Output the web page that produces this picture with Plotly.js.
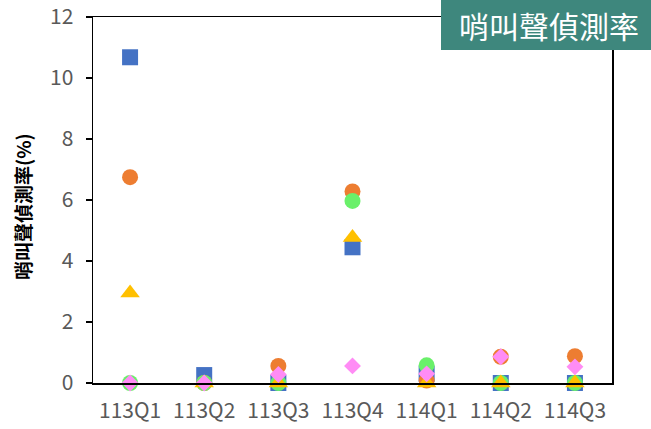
<!DOCTYPE html>
<html><head><meta charset="utf-8">
<script src="https://cdn.plot.ly/plotly-3.0.1.min.js"></script>
<style>body{margin:0;background:#fff}#c{width:651px;height:429px}</style>
</head><body><div id="c"></div>
<script>
const categories = ["113Q1","113Q2","113Q3","113Q4","114Q1","114Q2","114Q3"];
const seriesA = [10.68, 0.26, 0, 4.45, 0.3, 0, 0];     // blue square
const seriesB = [6.75, 0, 0.56, 6.28, 0.08, 0.86, 0.88]; // orange circle
const seriesD = [0, 0, 0, 5.97, 0.58, 0, 0];           // green circle
const seriesC = [2.95, 0, 0, 4.77, 0, 0, 0];           // yellow triangle
const seriesE = [0, 0, 0.28, 0.56, 0.3, 0.86, 0.53];   // pink diamond
const yTicks = [0,2,4,6,8,10,12];

const mk = (y, color, symbol, size) => ({
  x: categories, y: y, type: 'scatter', mode: 'markers',
  marker: {color: color, symbol: symbol, size: size, line: {width: 0}},
  cliponaxis: false, hoverinfo: 'skip'
});
const data = [
  mk(seriesA, '#4472C4', 'square', 16),
  mk(seriesB, '#ED7D31', 'circle', 16),
  mk(seriesD, '#6AF06A', 'circle', 16),
  mk(seriesC, '#FFC000', 'triangle-up', 17),
  mk(seriesE, '#FF8CF5', 'diamond', 13)
];
const font = "'Noto Sans CJK TC', 'Noto Sans', sans-serif";
const layout = {
  width: 651, height: 429,
  margin: {l: 93, r: 39, t: 17, b: 46},
  paper_bgcolor: '#fff', plot_bgcolor: '#fff',
  showlegend: false,
  font: {family: font, color: '#595959'},
  xaxis: {
    type: 'category', range: [-0.5, 6.5],
    showline: true, linecolor: '#000', linewidth: 1.5, mirror: true,
    ticks: '', showgrid: false, zeroline: false, ticklabelstandoff: 8,
    tickfont: {size: 21, color: '#595959', family: font}
  },
  yaxis: {
    range: [0, 12], tickvals: yTicks,
    showline: true, linecolor: '#000', linewidth: 1.5, mirror: true,
    ticks: 'outside', ticklen: 6, tickcolor: '#000', tickwidth: 1.2,
    showgrid: false, zeroline: false, ticklabelstandoff: 8,
    tickfont: {size: 21, color: '#595959', family: font}
  },
  shapes: [{
    type: 'rect', xref: 'paper', yref: 'paper',
    x0: (441-93)/519, x1: (651-93)/519, y0: (383-50)/366, y1: 383/366,
    fillcolor: '#3E877D', line: {width: 0}, layer: 'above'
  }],
  annotations: [{
    xref: 'paper', yref: 'paper', x: (549-93)/519, y: (383-25)/366,
    text: '哨叫聲偵測率', showarrow: false, xanchor: 'center', yanchor: 'middle',
    font: {size: 30, color: '#fff', family: font}
  }, {
    xref: 'paper', yref: 'paper', x: (22-93)/519, y: (383-207)/366,
    text: '<b>哨叫聲偵測率(%)</b>', showarrow: false, textangle: -90,
    xanchor: 'center', yanchor: 'middle',
    font: {size: 19, color: '#000', family: font}
  }]
};
Plotly.newPlot('c', data, layout, {displayModeBar: false, staticPlot: true});
</script></body></html>
